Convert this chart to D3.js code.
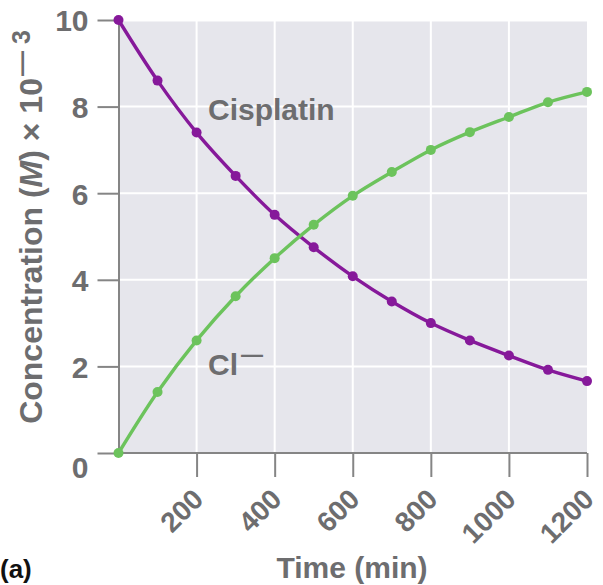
<!DOCTYPE html>
<html><head><meta charset="utf-8">
<script src="https://cdn.jsdelivr.net/npm/d3@7"></script>
<style>
body{margin:0;background:#fff;}
svg{display:block;font-family:"Liberation Sans",Arial,Helvetica,sans-serif;font-weight:bold;}
</style></head>
<body><svg id="c" width="603" height="585"></svg>
<script>
const times = [0,100,200,300,400,500,600,700,800,900,1000,1100,1200];
const cisplatin = [10,8.6,7.4,6.4,5.5,4.75,4.08,3.5,3.0,2.6,2.25,1.92,1.66];
const chloride = [0,1.41,2.6,3.62,4.5,5.27,5.94,6.49,7.0,7.41,7.76,8.1,8.34];
const xTicks = [200,400,600,800,1000,1200];
const yTicks = [0,2,4,6,8,10];
const seriesLabels = ["Cisplatin","Cl"];

const svg = d3.select("#c");
const x = d3.scaleLinear().domain([0,1200]).range([118.5,587]);
const y = d3.scaleLinear().domain([0,10]).range([453,20]);
const gray = "#6d6d6f";
const axisGray = "#858585";
const FF = "Liberation Sans, Arial, sans-serif";

// background
svg.append("rect").attr("x",x(0)).attr("y",y(10)+1.5).attr("width",x(1200)-x(0)).attr("height",y(0)-y(10)-1.5).attr("fill","#e6e6ec");
// grid
svg.append("g").selectAll("line").data(xTicks.slice(0,-1)).join("line")
  .attr("x1",d=>x(d)).attr("x2",d=>x(d)).attr("y1",y(10)).attr("y2",y(0))
  .attr("stroke","#fff").attr("stroke-width",2);
svg.append("g").selectAll("line").data(yTicks.slice(1,-1)).join("line")
  .attr("x1",x(0)).attr("x2",x(1200)).attr("y1",d=>y(d)).attr("y2",d=>y(d))
  .attr("stroke","#fff").attr("stroke-width",2);

// y axis
const ya = svg.append("g").attr("transform",`translate(${x(0)},0)`)
  .call(d3.axisLeft(y).tickValues(yTicks).tickFormat(d3.format("d")).tickSize(21).tickPadding(9).tickSizeOuter(0));
ya.select(".domain").attr("stroke",axisGray).attr("stroke-width",2);
ya.selectAll(".tick line").attr("stroke",axisGray).attr("stroke-width",2);
ya.selectAll(".tick text").attr("fill",gray).attr("font-size",30).attr("font-family",FF).attr("font-weight","bold")
  .attr("dy",d=>d===0?"0.8em":"0.36em");

// x axis
const xa = svg.append("g").attr("transform",`translate(0,${y(0)})`)
  .call(d3.axisBottom(x).tickValues(xTicks).tickFormat(d3.format("d")).tickSize(24).tickSizeOuter(0));
xa.select(".domain").attr("stroke",axisGray).attr("stroke-width",2).attr("d",`M${x(0)},0H${x(1200)}`);
xa.selectAll(".tick line").attr("stroke",axisGray).attr("stroke-width",2);
xa.selectAll(".tick text").attr("fill",gray).attr("font-size",28).attr("font-family",FF).attr("font-weight","bold")
  .attr("text-anchor","end").attr("y",0).attr("dy",0)
  .attr("transform","translate(8,48) rotate(-45)");

// lines
const line = d3.line().x((d,i)=>x(times[i])).y(d=>y(d)).curve(d3.curveCatmullRom);
const series = [{vals:cisplatin,color:"#86199a"},{vals:chloride,color:"#6cc35c"}];
series.forEach(s=>{
  svg.append("path").datum(s.vals).attr("d",line).attr("fill","none").attr("stroke",s.color).attr("stroke-width",3.4);
  svg.append("g").selectAll("circle").data(s.vals).join("circle")
    .attr("cx",(d,i)=>x(times[i])).attr("cy",d=>y(d)).attr("r",5).attr("fill",s.color);
});

// series labels
svg.append("text").attr("x",208).attr("y",120).attr("fill",gray).attr("font-size",30).text(seriesLabels[0]);
const cl = svg.append("text").attr("x",208).attr("y",375).attr("fill",gray).attr("font-size",30);
cl.append("tspan").text(seriesLabels[1]);
cl.append("tspan").attr("dx",3).attr("dy",-13).attr("font-size",22).text("\u2014");

// y title
const yt = svg.append("text").attr("transform","translate(42,227) rotate(-90)").attr("text-anchor","middle")
  .attr("fill",gray).attr("font-size",32);
yt.append("tspan").text("Concentration (");
yt.append("tspan").attr("font-style","italic").text("M");
yt.append("tspan").text(")  \u00d7  10");
yt.append("tspan").attr("dy",-12).attr("dx",2).attr("font-size",25).text("\u2014 3");

// x title
svg.append("text").attr("x",352).attr("y",578).attr("text-anchor","middle").attr("fill",gray).attr("font-size",30).text("Time (min)");
svg.append("text").attr("x",0).attr("y",578).attr("fill","#111").attr("font-size",26).text("(a)");
</script></body></html>
